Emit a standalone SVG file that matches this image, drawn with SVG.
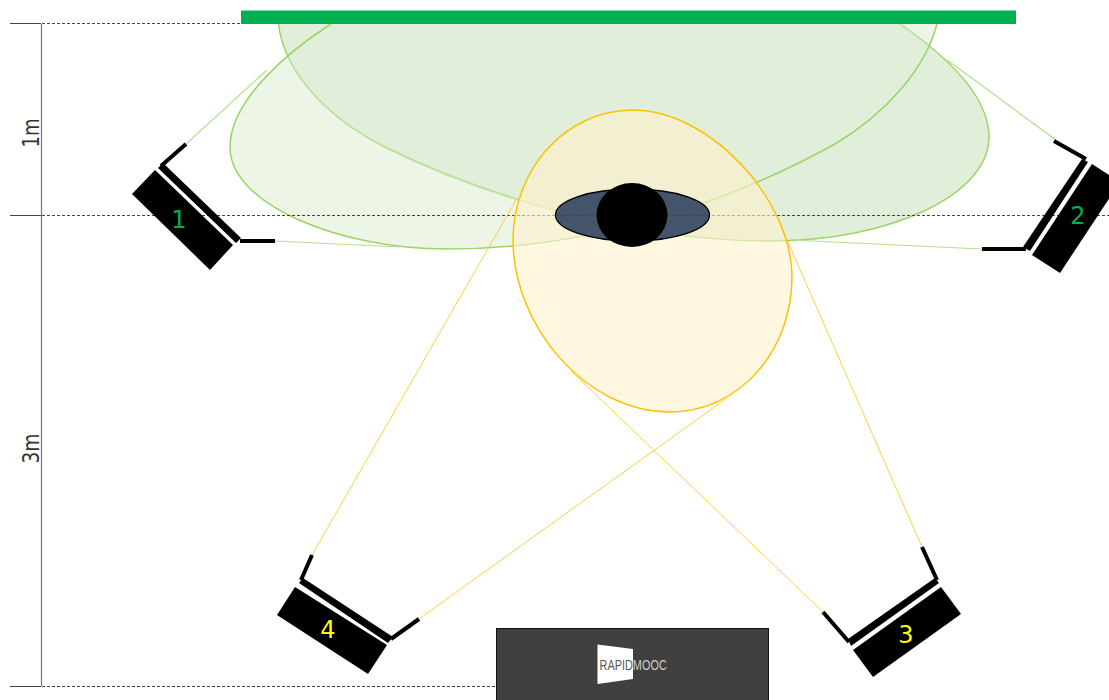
<svg xmlns="http://www.w3.org/2000/svg" width="1109" height="700" viewBox="0 0 1109 700">
<style>
.dash{stroke:#444;stroke-width:1;stroke-dasharray:3 2;fill:none}
.dim{stroke:#777;stroke-width:1.2;fill:none}
.tick{stroke:#444;stroke-width:1;fill:none}
.gstroke{fill:none;stroke:#9bd468;stroke-width:1.5}
.gsoft{fill:none;stroke:#c0e3a0;stroke-width:1.5}
.yz{fill:#fff2cc;fill-opacity:.6;stroke:#ffc000;stroke-width:1.5}
.gr{stroke:#b4de8c;stroke-width:1.2;fill:none}
.yr{stroke:#ffc000;stroke-width:1;fill:none;opacity:.75}
.flap{stroke:#000;stroke-width:4;fill:none}
.num{font:24px "DejaVu Sans",sans-serif;text-anchor:middle}
.lab{font:23px "DejaVu Sans",sans-serif;fill:#333}
</style>
<defs>
<path id="zoneA" d="M331 24C290 50 230 100 230 147C230 205 340 249 447 249C600 249 735 199 835 144C885 114 925 70 937 24"/>
<path id="zoneB" d="M278.500 24C284 72 328 119 387 148C470 189 620 241 770 241C890 241 989 195 989 137C989 95 945 55 900 24"/>
<clipPath id="insideA"><use href="#zoneA"/></clipPath>
</defs>
<rect width="1109" height="700" fill="#fff"/>
<g id="zones">
<use href="#zoneA" fill="#edf5e7"/>
<use href="#zoneB" fill="#e1eed9"/>
<use href="#zoneB" class="gstroke"/>
<use href="#zoneB" class="gsoft" clip-path="url(#insideA)"/>
<use href="#zoneA" class="gstroke"/>
</g>
<g id="dimensions">
<path class="dim" d="M41.500 24V686"/>
<path class="tick" d="M10 23.500H41M10 215.500H41M10 686.500H41"/>
<path class="dash" d="M42 23.500H245M42 215.500H1109M42 686.500H497"/>
<text class="lab" transform="translate(38.500 147.500) rotate(-90)" textLength="29" lengthAdjust="spacingAndGlyphs">1m</text>
<text class="lab" transform="translate(38.500 463.500) rotate(-90)" textLength="30" lengthAdjust="spacingAndGlyphs">3m</text>
</g>
<g id="yellow-zone">
<path class="yz" d="M633 110C565 110 513 170 513 240C513 325 585 412 670 412C740 412 792 350 792 277C792 200 710 110 633 110Z"/>
</g>
<g id="connectors">
<path class="gr" d="M185 145L267 70M275 241L400 247M1056 140L947 60M982 249L790 240"/>
<path class="yr" d="M312 555L516 200M419 619L727 398M922 547L787 240M823 612L572 372"/>
</g>
<g id="screen"><rect x="241" y="10.500" width="775" height="13.500" fill="#00b050"/></g>
<g id="presenter">
<ellipse cx="632.500" cy="215" rx="77" ry="26" fill="#44546a" stroke="#000" stroke-width="1.300"/>
<path class="dash" d="M556 215.500H710"/>
<ellipse cx="632" cy="215" rx="35.500" ry="32" fill="#000"/>
</g>
<g id="camera-1">
<polygon points="155,170 132,194 210,270 233,245"/>
<polygon points="158,168 163,163 241,238 236,243"/>
<path class="flap" d="M161 166L186 144M240 241H275"/>
<text class="num" x="179" y="228" fill="#00b050">1</text>
</g>
<g id="camera-2">
<polygon points="1092,164 1032,255 1060,273 1120,182"/>
<polygon points="1082,159 1088,162 1030,251 1023,247"/>
<path class="flap" d="M1054 141L1086 159M982 249H1026"/>
<text class="num" x="1078" y="224" fill="#00b050">2</text>
</g>
<g id="camera-3">
<polygon points="941,587 961,614 873,677 853,650"/>
<polygon points="935,578 939,583 851,646 848,639"/>
<path class="flap" d="M922 547L937 580M823 612L849 642"/>
<text class="num" x="906" y="643" fill="#ff0">3</text>
</g>
<g id="camera-4">
<polygon points="295,587 277,615 368,674 387,645"/>
<polygon points="303,578 299,583 388,643 393,637"/>
<path class="flap" d="M312 555L301 580M419 619L391 639"/>
<text class="num" x="328" y="638" fill="#ff0">4</text>
</g>
<g id="desk">
<rect x="496.500" y="628.500" width="272" height="72" fill="#404040" stroke="#111"/>
<polygon points="597.500,644.500 633,649 633,679 597.500,684" fill="#fff"/>
<text transform="translate(599.500 670) scale(.78 1)" font-family="Liberation Sans,Arial,sans-serif" font-size="14" fill="#555">RAPID<tspan fill="#ccc">MOOC</tspan></text>
</g>
</svg>
